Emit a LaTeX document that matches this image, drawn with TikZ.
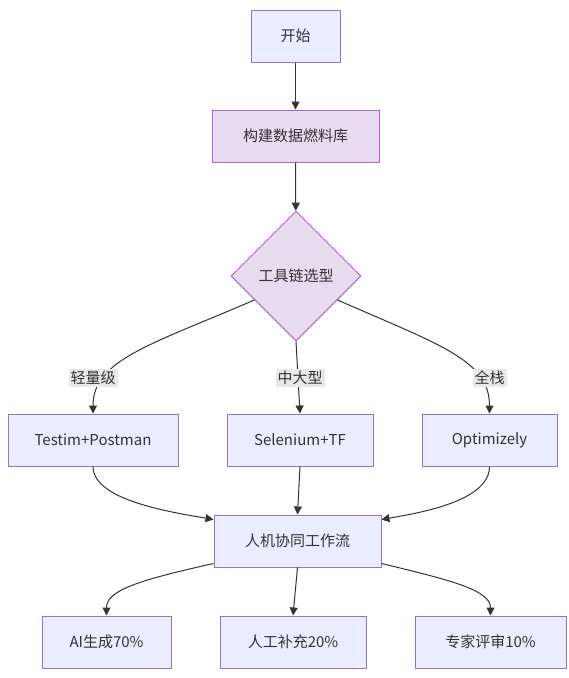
\documentclass[tikz,border=0pt]{standalone}
\usepackage{fontspec}
\setmainfont{Noto Sans CJK SC}
\usetikzlibrary{shapes.geometric,arrows.meta}
\definecolor{nodefill}{HTML}{ECECFF}
\definecolor{nodeline}{HTML}{9370DB}
\definecolor{datafill}{HTML}{E8DAEF}
\definecolor{dataline}{HTML}{AA66CC}
\definecolor{ink}{HTML}{333333}
\definecolor{lblfill}{HTML}{E8E8E8}
\tikzset{
  box/.style={draw=nodeline, fill=nodefill, line width=1pt, minimum height=52pt, inner sep=0pt, text=ink, font=\fontsize{15}{18}\selectfont},
  databox/.style={box, draw=dataline, fill=datafill},
  decision/.style={diamond, aspect=1, draw=dataline, fill=datafill, line width=1pt, minimum width=130pt, minimum height=130pt, inner sep=0pt, text=ink, font=\fontsize{15}{18}\selectfont},
  lbl/.style={fill=lblfill, inner sep=2pt, text=ink, font=\fontsize{15}{18}\selectfont},
  arr/.style={draw=ink, line width=1pt, -{Triangle[length=8pt,width=8pt]}},
}
\begin{document}
\begin{tikzpicture}[x=1pt,y=-1pt]
\useasboundingbox (0,0) rectangle (569,678);
\node[box, minimum width=89pt] (start) at (295.5,36) {开始};
\node[databox, minimum width=167pt] (build) at (295.5,136) {构建数据燃料库};
\node[decision] (dec) at (296,276) {工具链选型};
\node[box, minimum width=170pt] (t1) at (93,440) {Testim+Postman};
\node[box, minimum width=146pt] (t2) at (300,440) {Selenium+TF};
\node[box, minimum width=135pt] (t3) at (489.5,440) {Optimizely};
\node[box, minimum width=167pt] (hm) at (297.5,541) {人机协同工作流};
\node[box, minimum width=129pt] (a1) at (106.5,642) {AI生成70\%};
\node[box, minimum width=146pt] (a2) at (293,642) {人工补充20\%};
\node[box, minimum width=151pt] (a3) at (490.5,642) {专家评审10\%};

\draw[arr] (start) -- (build);
\draw[arr] (build) -- (dec);
\draw[arr] (dec.210) .. controls (150,345) and (93,360) .. (t1.north);
\draw[arr] (dec.south) -- (t2.north);
\draw[arr] (dec.-30) .. controls (440,345) and (489.5,360) .. (t3.north);

\node[lbl] (l1) at (93,378) {轻量级};
\node[lbl] (l2) at (300,378) {中大型};
\node[lbl] (l3) at (489.5,378) {全栈};

\draw[arr] (t1.south) .. controls (93,500) and (170,512) .. ([yshift=-5pt]hm.north west);
\draw[arr] (t2.south) -- (hm.north);
\draw[arr] (t3.south) .. controls (489.5,500) and (425,512) .. ([yshift=-5pt]hm.north east);

\draw[arr] ([yshift=4pt]hm.south west) .. controls (140,580) and (106.5,590) .. (a1.north);
\draw[arr] (hm.south) -- (a2.north);
\draw[arr] ([yshift=4pt]hm.south east) .. controls (450,580) and (490.5,590) .. (a3.north);
\end{tikzpicture}
\end{document}
